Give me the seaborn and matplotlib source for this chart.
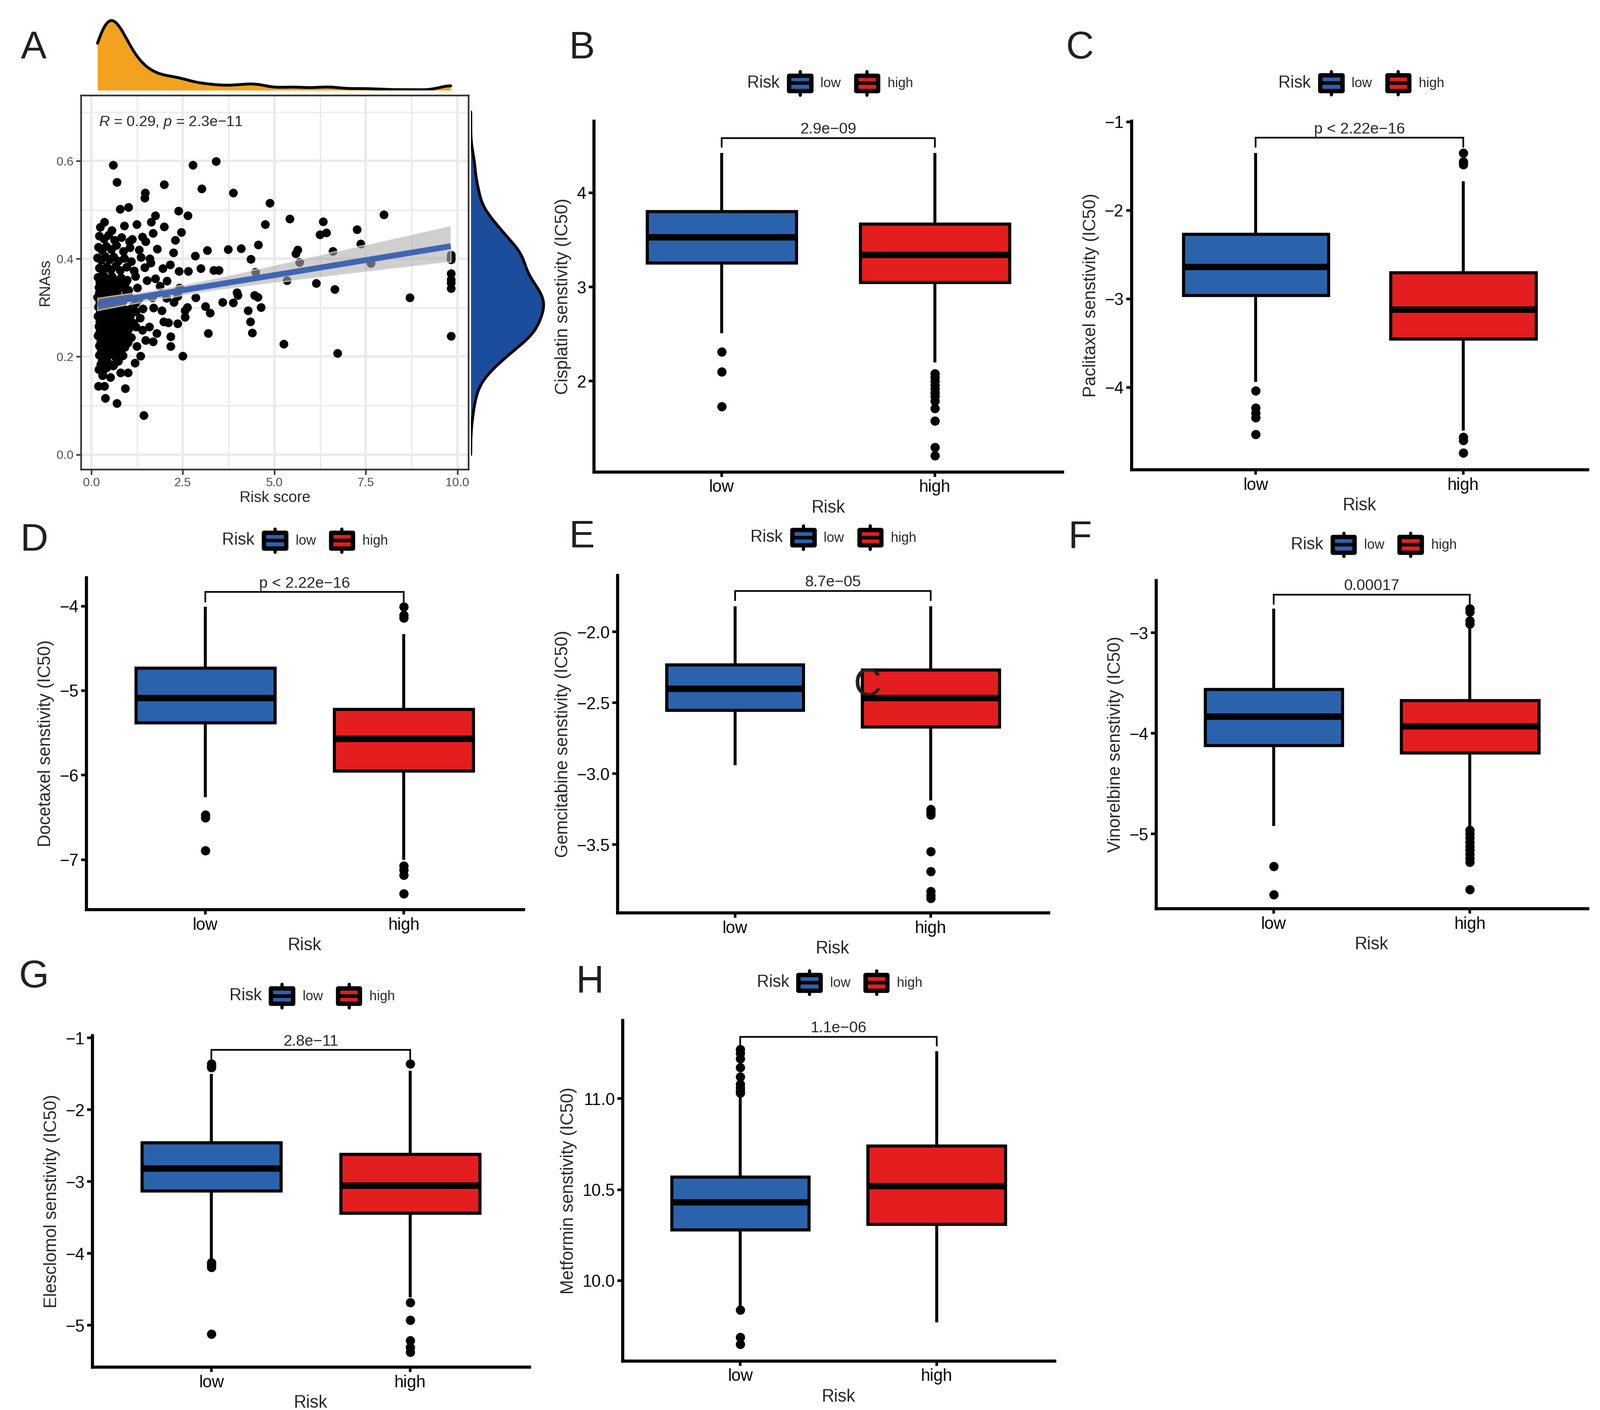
import numpy as np
import pandas as pd
import matplotlib
matplotlib.use("Agg")
import matplotlib.pyplot as plt
import seaborn as sns
from matplotlib.legend_handler import HandlerBase
from matplotlib.patches import Patch, Rectangle
from matplotlib.lines import Line2D
from matplotlib.collections import PolyCollection

sns.set_theme(style="ticks")
plt.rcParams["font.family"] = ["Liberation Sans", "DejaVu Sans"]
plt.rcParams["mathtext.fontset"] = "custom"
plt.rcParams["mathtext.rm"] = "Liberation Sans"
plt.rcParams["mathtext.it"] = "Liberation Sans:italic"

# ---------------- data ----------------
# panel A: risk score vs RNAss
spread_points = [
    (0.60, 0.592), (0.70, 0.557), (2.77, 0.592), (3.41, 0.599), (1.99, 0.552), (3.02, 0.543),
    (3.88, 0.535), (1.47, 0.535), (1.46, 0.524), (4.87, 0.514), (2.38, 0.498), (2.63, 0.488),
    (7.99, 0.490), (5.42, 0.482), (6.33, 0.476), (4.75, 0.470), (1.99, 0.466), (7.26, 0.460),
    (6.24, 0.450), (6.42, 0.453), (2.46, 0.454), (2.29, 0.438), (4.56, 0.429), (7.36, 0.431),
    (3.74, 0.419), (4.09, 0.421), (3.16, 0.417), (2.24, 0.413), (6.60, 0.415), (5.58, 0.411),
    (5.64, 0.418), (9.82, 0.408), (9.82, 0.398), (9.82, 0.403), (2.84, 0.406), (4.35, 0.399),
    (5.68, 0.393), (7.63, 0.391), (2.99, 0.380), (2.40, 0.375), (2.65, 0.375), (3.34, 0.377),
    (3.48, 0.377), (4.48, 0.373), (9.82, 0.370), (9.82, 0.358), (9.82, 0.351), (9.82, 0.340),
    (5.35, 0.356), (6.14, 0.350), (6.65, 0.338), (8.70, 0.321), (3.98, 0.331), (4.00, 0.325),
    (4.46, 0.325), (4.55, 0.322), (2.85, 0.321), (3.58, 0.311), (3.88, 0.310), (3.12, 0.303),
    (4.63, 0.301), (4.28, 0.294), (3.24, 0.289), (4.34, 0.271), (4.39, 0.249), (3.19, 0.248),
    (9.82, 0.242), (5.25, 0.226), (6.73, 0.207), (2.50, 0.201), (1.43, 0.080), (0.70, 0.105),
    (0.38, 0.115), (0.92, 0.135), (0.19, 0.140), (0.36, 0.140), (0.20, 0.174), (0.30, 0.167),
]
middle_points = [
    (2.17, 0.221), (2.17, 0.241), (2.36, 0.268), (2.56, 0.281), (2.62, 0.301), (2.26, 0.311),
    (2.36, 0.324), (1.92, 0.294), (1.97, 0.271), (1.78, 0.248), (1.68, 0.231), (1.87, 0.344),
    (2.07, 0.355), (2.15, 0.388), (2.41, 0.341), (2.56, 0.294), (1.19, 0.187), (1.34, 0.201),
    (1.24, 0.221), (1.48, 0.234), (1.39, 0.254), (1.58, 0.261), (1.00, 0.167), (0.80, 0.167),
    (0.59, 0.181), (1.24, 0.470), (1.01, 0.505), (0.78, 0.502), (0.90, 0.468), (0.36, 0.475),
    (0.24, 0.465), (0.56, 0.458), (1.75, 0.488), (1.63, 0.475), (1.68, 0.452), (1.48, 0.435),
    (1.04, 0.435), (1.39, 0.445), (1.80, 0.420), (1.95, 0.380), (2.05, 0.320), (1.70, 0.300),
    (1.75, 0.360), (1.60, 0.400), (2.10, 0.270),
]
dense_points = [
    (0.22, 0.447), (0.34, 0.441), (0.47, 0.449), (0.63, 0.438), (0.82, 0.444), (1.12, 0.440),
    (0.19, 0.424), (0.29, 0.417), (0.41, 0.426), (0.55, 0.419), (0.69, 0.428), (0.87, 0.415),
    (1.05, 0.423), (1.31, 0.418),
    (0.17, 0.402), (0.27, 0.397), (0.38, 0.405), (0.49, 0.398), (0.61, 0.404), (0.74, 0.396),
    (0.90, 0.401), (1.09, 0.395), (1.36, 0.403), (1.62, 0.392),
    (0.21, 0.381), (0.31, 0.376), (0.42, 0.384), (0.53, 0.378), (0.66, 0.385), (0.79, 0.377),
    (0.96, 0.383), (1.16, 0.376), (1.46, 0.382),
    (0.18, 0.362), (0.26, 0.356), (0.36, 0.364), (0.46, 0.357), (0.57, 0.363), (0.68, 0.355),
    (0.81, 0.361), (0.97, 0.357), (1.21, 0.364), (1.52, 0.356),
    (0.20, 0.342), (0.30, 0.336), (0.39, 0.344), (0.50, 0.337), (0.60, 0.345), (0.72, 0.338),
    (0.85, 0.343), (1.01, 0.336), (1.26, 0.341),
    (0.17, 0.322), (0.25, 0.316), (0.34, 0.324), (0.43, 0.318), (0.53, 0.325), (0.63, 0.317),
    (0.74, 0.323), (0.87, 0.316), (1.04, 0.322), (1.29, 0.317), (1.66, 0.321),
    (0.19, 0.302), (0.29, 0.296), (0.39, 0.304), (0.49, 0.297), (0.59, 0.305), (0.69, 0.298),
    (0.81, 0.303), (0.94, 0.296), (1.11, 0.302), (1.41, 0.298),
    (0.18, 0.283), (0.27, 0.277), (0.36, 0.285), (0.45, 0.278), (0.55, 0.284), (0.65, 0.276),
    (0.76, 0.282), (0.89, 0.277), (1.07, 0.283), (1.33, 0.279),
    (0.20, 0.262), (0.30, 0.257), (0.40, 0.264), (0.50, 0.256), (0.61, 0.263), (0.72, 0.258),
    (0.86, 0.262), (1.02, 0.256), (1.22, 0.261),
    (0.18, 0.243), (0.28, 0.237), (0.38, 0.244), (0.48, 0.238), (0.59, 0.245), (0.71, 0.236),
    (0.88, 0.242), (1.09, 0.239),
    (0.21, 0.222), (0.32, 0.217), (0.44, 0.224), (0.57, 0.216), (0.72, 0.223), (0.91, 0.219),
    (0.22, 0.203), (0.35, 0.197), (0.50, 0.204), (0.67, 0.198), (0.86, 0.202),
    (0.25, 0.184), (0.42, 0.178), (0.61, 0.183), (0.31, 0.162), (0.52, 0.158),
    (0.23, 0.352), (0.41, 0.348), (0.62, 0.351), (0.77, 0.347), (0.93, 0.350),
    (0.22, 0.331), (0.37, 0.328), (0.55, 0.332), (0.70, 0.329), (0.95, 0.331),
    (0.23, 0.311), (0.37, 0.308), (0.54, 0.312), (0.66, 0.309), (0.85, 0.311), (1.20, 0.309),
    (0.24, 0.291), (0.33, 0.288), (0.50, 0.292), (0.62, 0.287), (0.78, 0.291), (1.00, 0.289),
    (1.22, 0.292),
    (0.23, 0.271), (0.35, 0.268), (0.47, 0.272), (0.59, 0.267), (0.70, 0.271), (0.83, 0.268),
    (0.97, 0.272), (1.15, 0.269),
    (0.23, 0.251), (0.34, 0.248), (0.45, 0.252), (0.55, 0.247), (0.66, 0.251), (0.79, 0.249),
    (0.97, 0.252),
    (0.26, 0.232), (0.39, 0.229), (0.52, 0.233), (0.65, 0.228), (0.80, 0.232), (1.00, 0.229),
    (0.27, 0.212), (0.41, 0.208), (0.58, 0.211), (0.76, 0.209),
    (0.29, 0.192), (0.44, 0.189), (0.73, 0.191),
]

groups = ["low", "high"]
# box stats: [lower whisker, Q1, median, Q3, upper whisker]
cis_low, cis_high = [2.51, 3.255, 3.525, 3.80, 4.42], [2.20, 3.05, 3.34, 3.67, 4.42]
cis_low_out = [2.31, 2.10, 1.73]
cis_high_out = [2.08, 2.04, 2.00, 1.96, 1.92, 1.88, 1.84, 1.79, 1.71, 1.58, 1.30, 1.21]

pac_low, pac_high = [-3.94, -2.96, -2.64, -2.27, -1.35], [-4.49, -3.45, -3.12, -2.70, -1.67]
pac_low_out = [-4.04, -4.23, -4.29, -4.34, -4.53]
pac_high_out = [-1.35, -1.45, -1.48, -4.56, -4.60, -4.74]

doc_low, doc_high = [-6.26, -5.38, -5.09, -4.73, -4.01], [-7.00, -5.95, -5.57, -5.22, -4.33]
doc_low_out = [-6.47, -6.50, -6.89]
doc_high_out = [-4.01, -4.105, -4.14, -7.07, -7.12, -7.18, -7.40]

gem_low, gem_high = [-2.94, -2.55, -2.40, -2.23, -1.82], [-3.19, -2.67, -2.465, -2.265, -1.82]
gem_low_out = []
gem_high_out = [-3.25, -3.27, -3.29, -3.55, -3.69, -3.83, -3.86, -3.88]

vin_low, vin_high = [-4.92, -4.12, -3.835, -3.56, -2.76], [-4.93, -4.19, -3.93, -3.67, -2.94]
vin_low_out = [-5.32, -5.60]
vin_high_out = [-2.76, -2.79, -2.88, -2.91, -4.96, -5.00, -5.04, -5.08, -5.12, -5.16, -5.20,
                -5.24, -5.28, -5.55]

ele_low, ele_high = [-4.09, -3.13, -2.82, -2.46, -1.50], [-4.61, -3.44, -3.06, -2.62, -1.46]
ele_low_out = [-1.36, -1.39, -1.415, -4.13, -4.16, -4.19, -5.12]
ele_high_out = [-1.36, -4.68, -4.93, -5.21, -5.31, -5.37]

met_low, met_high = [9.86, 10.28, 10.43, 10.57, 11.01], [9.77, 10.31, 10.52, 10.74, 11.26]
met_low_out = [11.03, 11.045, 11.06, 11.08, 11.12, 11.17, 11.22, 11.25, 11.27, 9.84, 9.69, 9.65]
met_high_out = []

BLUE, RED = "#2A63AC", "#E41E1E"

# ---------------- layout helpers ----------------
W, H = 1560, 1375


def place(x0, y0, x1, y1):
    return [x0 / W, 1 - y1 / H, (x1 - x0) / W, (y1 - y0) / H]


class BoxKey(HandlerBase):
    # legend key drawn like a small boxplot
    def create_artists(self, legend, orig_handle, xdescent, ydescent, width, height, fontsize, trans):
        x0, y0 = -xdescent, -ydescent
        cx = x0 + width / 2
        fc = orig_handle.get_facecolor()
        rect = Rectangle((x0 + 0.06 * width, y0 + 0.17 * height), 0.88 * width, 0.66 * height,
                         facecolor=fc, edgecolor="black", lw=3.4, joinstyle="round", transform=trans)
        med = Line2D([x0 + 0.06 * width, x0 + 0.94 * width], [y0 + height / 2] * 2,
                     color="black", lw=2.8, transform=trans)
        top = Line2D([cx, cx], [y0 + 0.83 * height, y0 + 1.0 * height], color="black", lw=2.5, transform=trans)
        bot = Line2D([cx, cx], [y0, y0 + 0.17 * height], color="black", lw=2.5, transform=trans)
        return [rect, med, top, bot]


fig = plt.figure(figsize=(17.26, 15.21), dpi=200)

# ---------------- panel A ----------------
df = pd.DataFrame(spread_points + middle_points + dense_points, columns=["score", "rnass"])

axA = fig.add_axes(place(79, 93, 457, 458))
axA.set_xlim(-0.28, 10.31)
axA.set_ylim(-0.031, 0.734)
axA.set_xticks([0, 2.5, 5, 7.5, 10])
axA.set_xticklabels(["0.0", "2.5", "5.0", "7.5", "10.0"])
axA.set_xticks([1.25, 3.75, 6.25, 8.75], minor=True)
axA.set_yticks([0, 0.2, 0.4, 0.6])
axA.set_yticklabels(["0.0", "0.2", "0.4", "0.6"])
axA.set_yticks([0.1, 0.3, 0.5, 0.7], minor=True)
axA.grid(True, which="major", color="#EBEBEB", lw=2.0)
axA.grid(True, which="minor", color="#EBEBEB", lw=1.1)
axA.set_axisbelow(True)
sns.scatterplot(data=df, x="score", y="rnass", color="black", s=46, linewidth=0, ax=axA, zorder=2)
sns.regplot(data=df, x="score", y="rnass", scatter=False, ax=axA, color="#3F66B4",
            line_kws={"lw": 4.5, "zorder": 4, "solid_capstyle": "butt"})
for coll in axA.collections:
    if isinstance(coll, PolyCollection):
        coll.set_facecolor("#AFAFAF")
        coll.set_alpha(0.6)
        coll.set_zorder(3)
for sp in axA.spines.values():
    sp.set_color("#333333")
    sp.set_linewidth(1.3)
axA.tick_params(which="major", labelsize=9.5, labelcolor="#4D4D4D", color="#333333", length=4, width=1.2, pad=2)
axA.tick_params(which="minor", length=0)
axA.set_xlabel("Risk score", fontsize=11.8, labelpad=2)
axA.set_ylabel("RNAss", fontsize=11.8, labelpad=3)
axA.text(0.2, 0.678, r"$R$ = 0.29, $p$ = 2.3e−11", fontsize=11.5, ha="left", va="center")

axT = fig.add_axes(place(79, 16, 457, 88))
sns.kdeplot(data=df, x="score", cut=0, bw_adjust=0.45, fill=True, color="#F2A21F", alpha=1,
            linewidth=0, ax=axT)
sns.kdeplot(data=df, x="score", cut=0, bw_adjust=0.45, color="black", lw=2.2, ax=axT)
axT.set_xlim(axA.get_xlim())
axT.set_ylim(0, axT.lines[0].get_ydata().max() / 0.944)
axT.axis("off")

axR = fig.add_axes(place(459, 93, 535, 458))
sns.kdeplot(data=df, y="rnass", cut=10, clip=(0.0, 0.70), bw_adjust=0.8, fill=True, color="#1A4D9C",
            alpha=1, linewidth=0, ax=axR)
sns.kdeplot(data=df, y="rnass", cut=10, clip=(0.0, 0.70), bw_adjust=0.8, color="black", lw=2.2, ax=axR)
axR.set_ylim(axA.get_ylim())
axR.set_xlim(0, axR.lines[0].get_xdata().max() / 0.934)
axR.axis("off")


# ---------------- box panels ----------------
def box_panel(rect, low, low_out, high, high_out, ylim, yticks, ylabel, ptext, bracket, leg_xy):
    ax = fig.add_axes(place(*rect))
    stats = []
    for s, fl, name in [(low, low_out, groups[0]), (high, high_out, groups[1])]:
        stats.append(dict(whislo=s[0], q1=s[1], med=s[2], q3=s[3], whishi=s[4], fliers=fl, label=name))
    bp = ax.bxp(stats, positions=[0, 1], widths=0.7, patch_artist=True, showcaps=False,
                boxprops=dict(edgecolor="black", linewidth=2.4),
                medianprops=dict(color="black", linewidth=5, solid_capstyle="butt"),
                whiskerprops=dict(color="black", linewidth=2.3, solid_capstyle="butt"),
                flierprops=dict(marker="o", markerfacecolor="black", markeredgecolor="black",
                                markersize=6.2, linestyle="none"))
    for patch, c in zip(bp["boxes"], [BLUE, RED]):
        patch.set_facecolor(c)

    # significance bracket
    ax.plot([0, 0, 1, 1], [bracket[1], bracket[0], bracket[0], bracket[2]], color="black", lw=1.3,
            solid_joinstyle="miter")
    ax.annotate(ptext, xy=(0.5, bracket[0]), xytext=(0, 1), textcoords="offset points",
                ha="center", va="bottom", fontsize=12)

    ax.set_xlim(-0.6, 1.6)
    ax.set_ylim(*ylim)
    ax.set_yticks(yticks)
    ax.set_xticks([0, 1])
    ax.set_xticklabels(groups)
    sns.despine(ax=ax)
    for side in ["left", "bottom"]:
        ax.spines[side].set_linewidth(2.4)
        ax.spines[side].set_color("black")
    ax.tick_params(labelsize=13, length=4, width=2, color="black", labelcolor="black", pad=2)
    ax.set_xlabel("Risk", fontsize=13.5, labelpad=3)
    ax.set_ylabel(ylabel, fontsize=13.5, labelpad=4)

    handles = [Patch(facecolor=BLUE), Patch(facecolor=RED)]
    leg = ax.legend(handles, groups, ncol=2, loc="center", bbox_to_anchor=leg_xy, frameon=False,
                    fontsize=10.5, handler_map={Patch: BoxKey()}, handlelength=1.85, handleheight=2.3,
                    handletextpad=0.6, columnspacing=1.0, borderpad=0, borderaxespad=0)
    ax.annotate("Risk", xy=(0, 0.5), xycoords=leg, xytext=(-6, 0), textcoords="offset points",
                ha="right", va="center", fontsize=13)
    return ax


box_panel((579, 118, 1036, 460), cis_low, cis_low_out, cis_high, cis_high_out, (1.04, 4.76), [2, 3, 4],
          "Cisplatin senstivity (IC50)", "2.9e−09", (4.58, 4.485, 4.485), (0.547, 1.108))
box_panel((1103, 118, 1548, 458), pac_low, pac_low_out, pac_high, pac_high_out, (-4.93, -0.99),
          [-4, -3, -2, -1], "Paclitaxel senstivity (IC50)", "p < 2.22e−16", (-1.18, -1.285, -1.285),
          (0.548, 1.109))
box_panel((84, 563, 510, 887), doc_low, doc_low_out, doc_high, doc_high_out, (-7.59, -3.66),
          [-7, -6, -5, -4], "Docetaxel senstivity (IC50)", "p < 2.22e−16", (-3.835, -3.95, -3.95),
          (0.547, 1.111))
box_panel((602, 561, 1022, 890), gem_low, gem_low_out, gem_high, gem_high_out, (-3.98, -1.60),
          [-3.5, -3.0, -2.5, -2.0], "Gemcitabine senstivity (IC50)", "8.7e−05", (-1.71, -1.775, -1.775),
          (0.548, 1.112))
box_panel((1127, 566, 1548, 886), vin_low, vin_low_out, vin_high, vin_high_out, (-5.74, -2.48),
          [-5, -4, -3], "Vinorelbine senstivity (IC50)", "0.00017", (-2.62, -2.715, -2.715),
          (0.551, 1.109))
box_panel((90, 1010, 516, 1333), ele_low, ele_low_out, ele_high, ele_high_out, (-5.58, -0.97),
          [-5, -4, -3, -2, -1], "Elesclomol senstivity (IC50)", "2.8e−11", (-1.17, -1.29, -1.29),
          (0.549, 1.12))
box_panel((607, 995, 1028, 1327), met_low, met_low_out, met_high, met_high_out, (9.56, 11.43),
          [10.0, 10.5, 11.0], "Metformin senstivity (IC50)", "1.1e−06", (11.34, 11.295, 11.29),
          (0.549, 1.111))

# panel letters (the stray "C" over panel E is in the source image too)
for letter, x, y in [("A", 33, 47), ("B", 567, 47), ("C", 1053, 47), ("D", 33, 527), ("E", 567, 524),
                     ("F", 1053, 524), ("G", 33, 953), ("H", 575, 958), ("C", 846, 668)]:
    fig.text(x / W, 1 - y / H, letter, fontsize=30, ha="center", va="center", color="#231F20")

fig.savefig("out.png", dpi=200)
